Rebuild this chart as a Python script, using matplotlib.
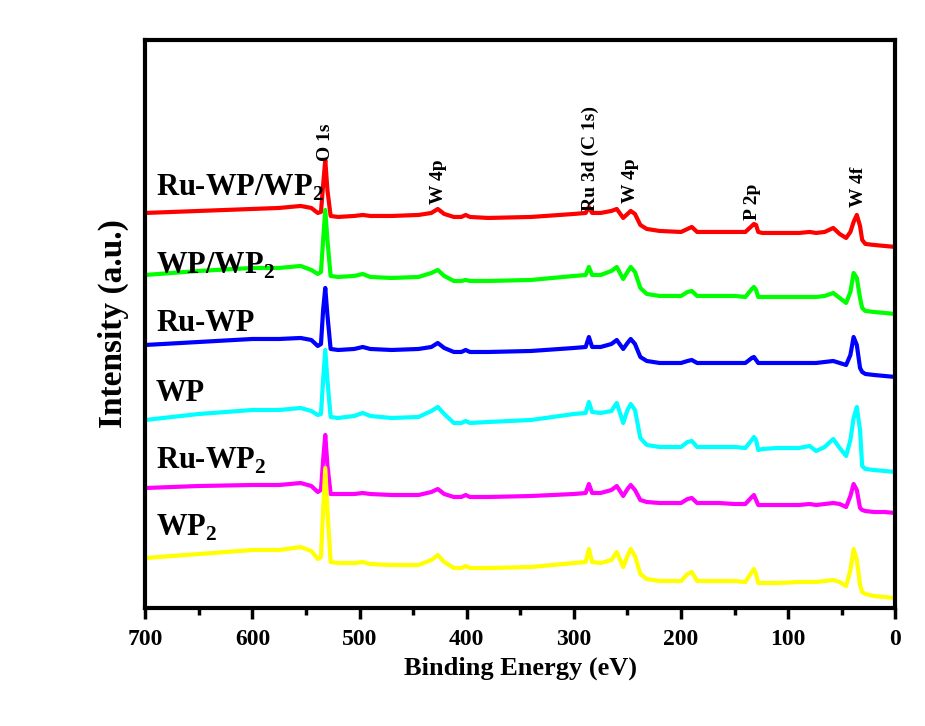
import numpy as np
import matplotlib
matplotlib.use("Agg")
import matplotlib.pyplot as plt
from matplotlib.ticker import MultipleLocator

plt.rcParams['font.family'] = ['Liberation Serif', 'DejaVu Serif']
plt.rcParams['font.weight'] = 'bold'
plt.rcParams['mathtext.fontset'] = 'custom'
plt.rcParams['mathtext.rm'] = 'Liberation Serif:bold'
plt.rcParams['mathtext.bf'] = 'Liberation Serif:bold'

# binding energy grid (eV) shared by all spectra
energy = [700, 650, 600, 575, 555, 545, 539, 536, 534, 532, 530, 527, 520, 505,
          497, 490, 470, 445, 433, 427, 421, 412, 405, 401, 397, 380, 340, 300,
          289, 286, 283, 275, 265, 260, 254, 250, 247, 243, 238, 232, 220, 200,
          194, 190, 185, 165, 150, 140, 134, 132, 130, 128, 124, 110, 90, 80,
          74, 66, 58, 52, 46, 42, 39, 36, 33, 31, 28, 20, 10, 0]

# intensities (a.u., already offset), as pixel rows
ru_wp_wp2 = [213, 211, 209, 208, 206, 208, 213, 212, 185, 160, 190, 216, 217, 216,
             215, 216, 216, 215, 213, 209, 214, 217, 217, 215, 217, 218, 217, 214,
             213, 207, 213, 213, 211, 209, 218, 214, 211, 214, 225, 229, 231, 232,
             229, 227, 232, 232, 232, 232, 226, 224, 225, 232, 233, 233, 233, 232,
             233, 232, 228, 234, 238, 232, 222, 215, 226, 240, 244, 245, 246, 247]
wp_wp2 = [275, 271, 268, 268, 266, 270, 274, 272, 240, 210, 240, 276, 277, 276,
          274, 277, 278, 277, 273, 270, 276, 281, 281, 280, 281, 281, 280, 276,
          275, 267, 275, 275, 271, 267, 279, 272, 267, 272, 288, 294, 296, 296,
          292, 291, 296, 296, 296, 297, 289, 287, 290, 297, 297, 297, 297, 297,
          297, 296, 293, 298, 303, 292, 273, 278, 298, 308, 311, 312, 313, 314]
ru_wp = [345, 342, 339, 339, 338, 340, 346, 344, 310, 288, 315, 349, 350, 349,
         347, 349, 350, 349, 347, 343, 348, 352, 352, 350, 352, 352, 351, 348,
         347, 337, 347, 347, 344, 340, 349, 343, 339, 344, 357, 361, 363, 363,
         361, 360, 363, 363, 363, 363, 358, 357, 360, 363, 363, 363, 363, 363,
         363, 362, 361, 363, 365, 355, 337, 345, 368, 372, 374, 375, 376, 377]
wp = [420, 414, 410, 410, 408, 411, 415, 414, 380, 350, 380, 417, 418, 416,
      413, 416, 418, 417, 411, 407, 414, 423, 423, 421, 423, 422, 420, 414,
      413, 402, 412, 413, 411, 403, 423, 410, 404, 410, 438, 445, 447, 447,
      442, 441, 447, 447, 447, 448, 440, 437, 440, 450, 449, 448, 448, 446,
      451, 447, 439, 448, 456, 440, 418, 407, 430, 466, 469, 470, 471, 472]
ru_wp2 = [488, 486, 485, 485, 483, 486, 492, 490, 460, 435, 465, 494, 494, 494,
          493, 494, 495, 495, 492, 489, 494, 497, 497, 495, 497, 497, 496, 494,
          493, 484, 493, 493, 490, 486, 496, 489, 485, 490, 500, 502, 503, 503,
          499, 498, 503, 503, 504, 504, 497, 495, 500, 505, 505, 505, 505, 504,
          505, 504, 503, 504, 507, 496, 484, 490, 508, 510, 511, 512, 512, 513]
wp2 = [558, 554, 550, 550, 547, 551, 559, 557, 510, 468, 510, 562, 563, 563,
       562, 564, 565, 565, 560, 555, 562, 568, 568, 566, 568, 568, 567, 563,
       562, 549, 562, 563, 560, 552, 567, 556, 549, 556, 574, 579, 581, 581,
       574, 572, 581, 581, 581, 582, 572, 569, 574, 583, 583, 583, 582, 582,
       582, 581, 580, 582, 586, 570, 549, 560, 585, 592, 594, 596, 597, 598]

series = [ru_wp_wp2, wp_wp2, ru_wp, wp, ru_wp2, wp2]
colors = ['#ff0000', '#00ff00', '#0000ff', '#00ffff', '#ff00ff', '#ffff00']
names = ['Ru-WP/WP$_2$', 'WP/WP$_2$', 'Ru-WP', 'WP', 'Ru-WP$_2$', 'WP$_2$']
name_y = [420, 342, 284, 214, 147, 80]

peak_names = ['O 1s', 'W 4p', 'Ru 3d (C 1s)', 'W 4p', 'P 2p', 'W 4f']
peak_x = [532, 426, 285, 247, 133, 34]
peak_y = [447, 404, 397, 405, 388, 401]

fig = plt.figure(figsize=(9.25, 7.26), dpi=100)
ax = fig.add_axes([0.157, 0.1625, 0.811, 0.7825])

for vals, c in zip(series, colors):
    # pixel rows -> intensity
    inten = 608 - np.array(vals)
    ax.plot(energy, inten, color=c, lw=3, solid_joinstyle='round')

for n, y in zip(names, name_y):
    ax.text(690, y, n, fontsize=22, fontweight='bold', va='center', ha='left')

for n, x, y in zip(peak_names, peak_x, peak_y):
    ax.text(x, y, n, fontsize=14, fontweight='bold', rotation=90,
            ha='center', va='bottom')

ax.set_xlim(700, 0)
ax.set_ylim(0, 568)
ax.xaxis.set_major_locator(MultipleLocator(100))
ax.xaxis.set_minor_locator(MultipleLocator(50))
ax.set_yticks([])
ax.tick_params(axis='x', which='major', direction='out', length=8, width=2.5,
               labelsize=17, pad=7)
ax.tick_params(axis='x', which='minor', direction='out', length=5, width=2.5)
for s in ax.spines.values():
    s.set_linewidth(3)

ax.set_xlabel('Binding Energy (eV)', fontsize=19, fontweight='bold', labelpad=5)
ax.set_ylabel('Intensity (a.u.)', fontsize=24, fontweight='bold', labelpad=12)

fig.savefig('out.png', dpi=100)
